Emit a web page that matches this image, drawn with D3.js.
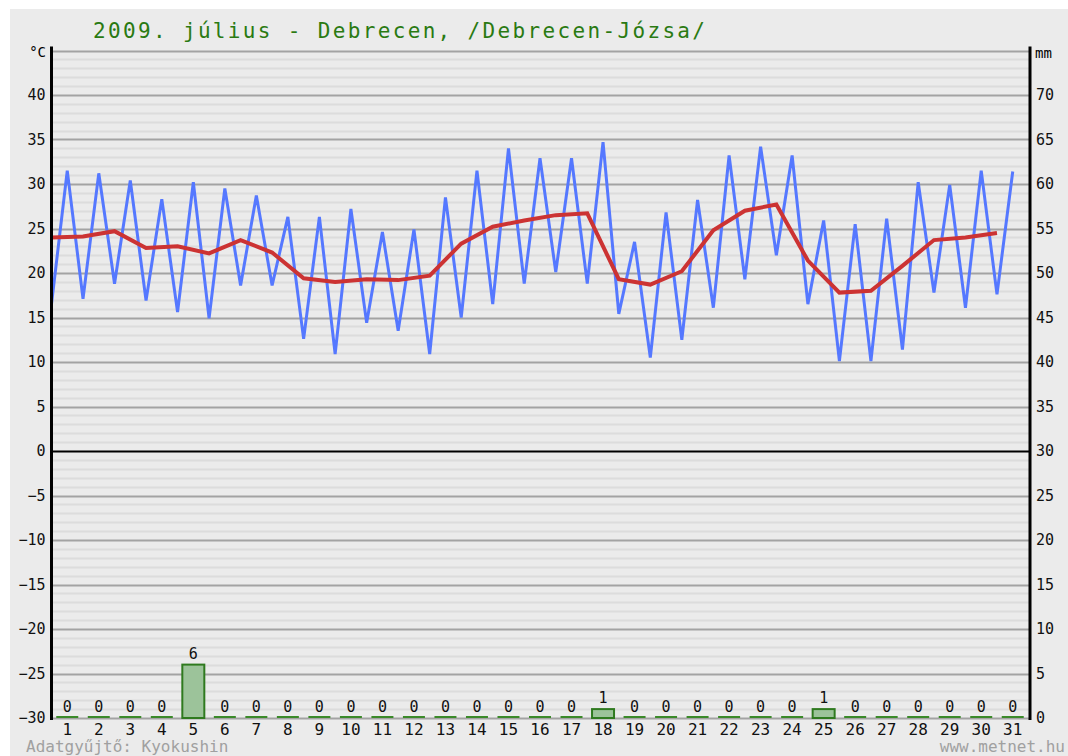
<!DOCTYPE html>
<html>
<head>
<meta charset="utf-8">
<script src="https://cdn.jsdelivr.net/npm/d3@7"></script>
<style>
  body { margin: 0; background: #ffffff; }
  svg { display: block; }
</style>
</head>
<body>
<svg id="chart" width="1068" height="756"></svg>
<script>
(function () {
    'use strict';

    var days = [1, 2, 3, 4, 5, 6, 7, 8, 9, 10, 11, 12, 13, 14, 15, 16, 17, 18, 19, 20, 21, 22, 23, 24, 25, 26, 27, 28, 29, 30, 31];
    var tempMin = [16.5, 17.1, 18.8, 16.9, 15.6, 14.9, 18.6, 18.6, 12.6, 10.9, 14.4, 13.5, 10.9, 15.0, 16.5, 18.8,
        20.1, 18.8, 15.4, 10.5, 12.5, 16.1, 19.3, 22.0, 16.5, 10.1, 10.1, 11.4, 17.8, 16.1, 17.6];
    var tempMax = [31.5, 31.2, 30.4, 28.3, 30.2, 29.5, 28.7, 26.3, 26.3, 27.2, 24.6, 24.9, 28.5, 31.5, 34.0, 32.9,
        32.9, 34.7, 23.5, 26.8, 28.2, 33.2, 34.2, 33.2, 25.9, 25.5, 26.1, 30.2, 29.9, 31.5, 31.4];
    var tempMean = [24.0, 24.1, 24.7, 22.8, 23.0, 22.2, 23.7, 22.3, 19.4, 19.0, 19.3, 19.2, 19.7, 23.3, 25.2, 25.9,
        26.5, 26.7, 19.3, 18.7, 20.2, 24.8, 27.0, 27.7, 21.4, 17.8, 18.0, 20.8, 23.7, 24.0, 24.5];
    var precip = [0, 0, 0, 0, 6, 0, 0, 0, 0, 0, 0, 0, 0, 0, 0, 0, 0, 1, 0, 0, 0, 0, 0, 0, 1, 0, 0, 0, 0, 0, 0];
    var tempTicks = [-30, -25, -20, -15, -10, -5, 0, 5, 10, 15, 20, 25, 30, 35, 40];
    var mmTicks = [0, 5, 10, 15, 20, 25, 30, 35, 40, 45, 50, 55, 60, 65, 70];

    var mono = "'DejaVu Sans Mono', 'Liberation Mono', monospace";
    var left = 51.5, right = 1028.5, top = 50.5, bottom = 718;

    var svg = d3.select("#chart");

    svg.append("rect")
        .attr("x", 10).attr("y", 9)
        .attr("width", 1058).attr("height", 747)
        .style("fill", "#ebebeb");

    var x = d3.scaleLinear().domain([0, 31]).range([left, right]);
    var y = d3.scaleLinear().domain([-30, 45]).range([bottom, top]);
    var yMm = d3.scaleLinear().domain([0, 75]).range([bottom, top]);

    // grid lines, every degree
    var grid = svg.append("g");
    d3.range(-30, 46).forEach(function (t) {
        var major = t % 5 === 0;
        grid.append("line")
            .attr("x1", left).attr("x2", right + 1)
            .attr("y1", Math.round(y(t)) + 0.5).attr("y2", Math.round(y(t)) + 0.5)
            .style("stroke", t === 0 ? "#000000" : (major ? "#a3a3a3" : "#dcdcdc"))
            .style("stroke-width", 2);
    });

    // precipitation bars
    var rain = precip.map(function (v, i) { return { day: days[i], v: v }; });
    var barW = 22;
    svg.append("g").selectAll("line")
        .data(rain)
        .enter()
        .append("line")
        .attr("x1", function (d) { return x(d.day - 0.5) - barW / 2; })
        .attr("x2", function (d) { return x(d.day - 0.5) + barW / 2; })
        .attr("y1", bottom - 1).attr("y2", bottom - 1)
        .style("stroke", "#3b8a2a")
        .style("stroke-width", 2);
    svg.append("g").selectAll("rect")
        .data(rain.filter(function (d) { return d.v > 0; }))
        .enter()
        .append("rect")
        .attr("x", function (d) { return x(d.day - 0.5) - barW / 2; })
        .attr("y", function (d) { return yMm(d.v); })
        .attr("width", barW)
        .attr("height", function (d) { return bottom - yMm(d.v); })
        .style("fill", "#9cc39a")
        .style("stroke", "#2f7a1f")
        .style("stroke-width", 2);
    svg.append("g").selectAll("text")
        .data(rain)
        .enter()
        .append("text")
        .attr("x", function (d) { return x(d.day - 0.5); })
        .attr("y", function (d) { return yMm(d.v) - 6; })
        .attr("text-anchor", "middle")
        .style("font-family", mono)
        .style("font-size", "15px")
        .style("fill", "#111111")
        .text(function (d) { return d.v; });

    // temperature: min at start of day, max at midday
    var zig = [];
    days.forEach(function (d, i) {
        zig.push([i, tempMin[i]]);
        zig.push([i + 0.5, tempMax[i]]);
    });
    svg.append("path")
        .datum(zig)
        .attr("d", d3.line().x(function (d) { return x(d[0]); }).y(function (d) { return y(d[1]); }))
        .style("fill", "none")
        .style("stroke", "#5578ff")
        .style("stroke-width", 3);

    svg.append("path")
        .datum(tempMean)
        .attr("d", d3.line().x(function (d, i) { return x(i); }).y(function (d) { return y(d); }))
        .style("fill", "none")
        .style("stroke", "#cc3333")
        .style("stroke-width", 4);

    // axes
    var axL = svg.append("g")
        .attr("transform", "translate(" + left + ",0)")
        .call(d3.axisLeft(y).tickValues(tempTicks).tickSize(0).tickPadding(6));
    var axR = svg.append("g")
        .attr("transform", "translate(" + (right + 1.5) + ",0)")
        .call(d3.axisRight(yMm).tickValues(mmTicks).tickSize(0).tickPadding(6));
    [axL, axR].forEach(function (ax) {
        ax.select(".domain")
            .attr("d", "M0," + (top - 4) + "V" + (bottom + 2))
            .style("stroke", "#000000")
            .style("stroke-width", 3);
        ax.selectAll("text")
            .style("font-family", mono)
            .style("font-size", "15px")
            .style("fill", "#111111");
    });

    svg.append("g").selectAll("text")
        .data(days)
        .enter()
        .append("text")
        .attr("x", function (d) { return x(d - 0.5); })
        .attr("y", 735)
        .attr("text-anchor", "middle")
        .style("font-family", mono)
        .style("font-size", "16px")
        .style("fill", "#111111")
        .text(function (d) { return d; });

    svg.append("text")
        .attr("x", 46).attr("y", 57)
        .attr("text-anchor", "end")
        .style("font-family", mono).style("font-size", "14px")
        .text("°C");
    svg.append("text")
        .attr("x", 1035).attr("y", 58)
        .style("font-family", mono).style("font-size", "14px")
        .text("mm");

    svg.append("text")
        .attr("x", 93).attr("y", 38)
        .attr("textLength", 612)
        .attr("lengthAdjust", "spacing")
        .style("font-family", mono)
        .style("font-size", "21px")
        .style("fill", "#2a7a12")
        .text("2009. július - Debrecen, /Debrecen-Józsa/");

    svg.append("text")
        .attr("x", 26).attr("y", 752)
        .style("font-family", mono).style("font-size", "16px")
        .style("fill", "#a0a0a0")
        .text("Adatgyűjtő: Kyokushin");
    svg.append("text")
        .attr("x", 1065).attr("y", 752)
        .attr("text-anchor", "end")
        .style("font-family", mono).style("font-size", "16px")
        .style("fill", "#a0a0a0")
        .text("www.metnet.hu");
}());
</script>
</body>
</html>
